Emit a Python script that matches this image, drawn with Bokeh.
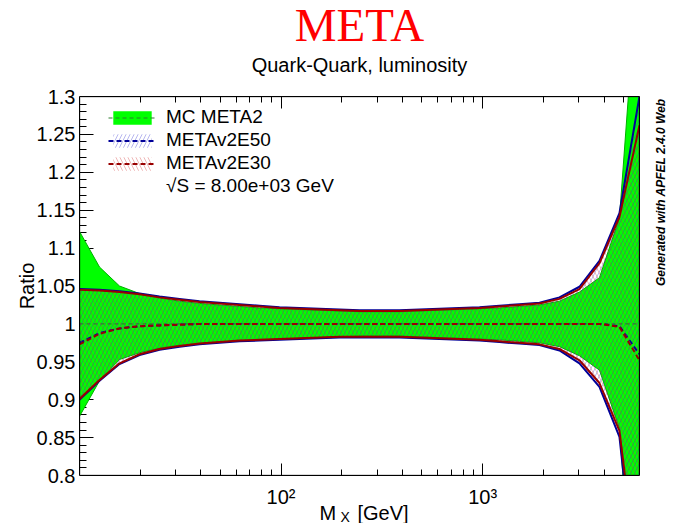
import math
from bokeh.plotting import figure
from bokeh.models import (FixedTicker, LogAxis, LinearAxis, Legend, Grid,
                          LegendItem, Range1d, Title, BoxAnnotation)
from bokeh.embed import file_html
from bokeh.resources import INLINE

# ---------------- data ----------------
mass = [10.0, 12.57, 15.79, 19.85, 24.94, 31.35, 39.39, 49.5, 62.2, 78.2,
        98.2, 123.4, 155.1, 194.9, 244.9, 307.8, 386.7, 486.0, 610.7, 767.4,
        964.5, 1212.0, 1523.0, 1914.0, 2405.0, 3022.0, 3797.0, 4772.0, 5998.0]

mc_central = [1.0, 1.0, 1.0, 1.0, 1.0, 1.0, 1.0, 1.0, 1.0, 1.0,
              1.0, 1.0, 1.0, 1.0, 1.0, 1.0, 1.0, 1.0, 1.0, 1.0,
              1.0, 1.0, 1.0, 1.0, 1.0, 1.0, 1.0, 1.0, 1.0]
mc_upper = [1.122, 1.075, 1.050, 1.040, 1.034, 1.030, 1.027, 1.025, 1.023, 1.021,
            1.020, 1.019, 1.018, 1.017, 1.016, 1.016, 1.016, 1.017, 1.018, 1.019,
            1.020, 1.021, 1.023, 1.025, 1.030, 1.042, 1.061, 1.140, 1.500]
mc_lower = [0.878, 0.925, 0.953, 0.962, 0.968, 0.972, 0.974, 0.976, 0.978, 0.979,
            0.980, 0.981, 0.982, 0.983, 0.984, 0.984, 0.984, 0.983, 0.982, 0.981,
            0.980, 0.979, 0.977, 0.975, 0.970, 0.958, 0.939, 0.862, 0.500]

e50_central = [0.975, 0.988, 0.994, 0.997, 0.998, 0.999, 1.0, 1.0, 1.0, 1.0,
               1.0, 1.0, 1.0, 1.0, 1.0, 1.0, 1.0, 1.0, 1.0, 1.0,
               1.0, 1.0, 1.0, 1.0, 1.0, 1.0, 1.0, 0.997, 0.960]
e50_upper = [1.046, 1.045, 1.043, 1.040, 1.036, 1.033, 1.030, 1.028, 1.026, 1.024,
             1.022, 1.021, 1.020, 1.019, 1.018, 1.018, 1.018, 1.019, 1.020, 1.021,
             1.022, 1.024, 1.026, 1.028, 1.035, 1.049, 1.083, 1.146, 1.300]
e50_lower = [0.900, 0.925, 0.947, 0.959, 0.966, 0.970, 0.973, 0.975, 0.977, 0.978,
             0.979, 0.980, 0.981, 0.982, 0.982, 0.982, 0.982, 0.981, 0.980, 0.979,
             0.978, 0.976, 0.974, 0.972, 0.965, 0.948, 0.917, 0.851, 0.610]

e30_central = [0.973, 0.987, 0.994, 0.997, 0.998, 0.999, 1.0, 1.0, 1.0, 1.0,
               1.0, 1.0, 1.0, 1.0, 1.0, 1.0, 1.0, 1.0, 1.0, 1.0,
               1.0, 1.0, 1.0, 1.0, 1.0, 1.0, 1.0, 0.996, 0.952]
e30_upper = [1.045, 1.044, 1.042, 1.039, 1.035, 1.032, 1.029, 1.027, 1.025, 1.023,
             1.021, 1.020, 1.019, 1.018, 1.017, 1.017, 1.017, 1.018, 1.019, 1.020,
             1.021, 1.023, 1.025, 1.027, 1.033, 1.046, 1.080, 1.141, 1.262]
e30_lower = [0.901, 0.926, 0.948, 0.960, 0.967, 0.971, 0.974, 0.976, 0.978, 0.979,
             0.980, 0.981, 0.982, 0.983, 0.983, 0.983, 0.983, 0.982, 0.981, 0.980,
             0.979, 0.977, 0.975, 0.973, 0.967, 0.952, 0.922, 0.859, 0.645]

series_names = ["MC META2", "METAv2E50", "METAv2E30"]
energy_label = "\u221aS = 8.00e+03 GeV"

x_tick_values = [100, 1000]
x_tick_labels = ["10\u00b2", "10\u00b3"]
x_minor_ticks = [20, 30, 40, 50, 60, 70, 80, 90,
                 200, 300, 400, 500, 600, 700, 800, 900,
                 2000, 3000, 4000, 5000, 6000]
y_tick_values = [0.8, 0.85, 0.9, 0.95, 1.0, 1.05, 1.1, 1.15, 1.2, 1.25, 1.3]
y_tick_labels = ["0.8", "0.85", "0.9", "0.95", "1", "1.05", "1.1", "1.15",
                 "1.2", "1.25", "1.3"]
y_minor_ticks = [round(0.8 + 0.01 * i, 2) for i in range(51)]

# ---------------- figure ----------------
FONT = "Liberation Sans"
X0, X1, Y0, Y1 = 10, 6000, 0.8, 1.3
FRAME_W, FRAME_H = 560, 379
p = figure(width=677, height=523, x_axis_type="log", title=None,
           x_range=Range1d(X0, X1), y_range=Range1d(Y0, Y1),
           output_backend="svg", toolbar_location=None,
           min_border_left=79, min_border_right=38,
           min_border_top=96, min_border_bottom=48)
p.grid.visible = False
p.outline_line_color = None
p.background_fill_color = None
p.border_fill_color = "white"

xt = FixedTicker(ticks=x_tick_values, minor_ticks=[])
yt = FixedTicker(ticks=y_tick_values, minor_ticks=[])

def no_ticks(ax):
    ax.major_tick_in = 0
    ax.major_tick_out = 0
    ax.minor_tick_in = 0
    ax.minor_tick_out = 0
    ax.axis_line_color = "black"

xa = p.xaxis[0]
xa.ticker = xt
no_ticks(xa)
xa.major_label_overrides = dict(zip(x_tick_values, x_tick_labels))
xa.major_label_standoff = 10
xa.major_label_text_font = FONT
xa.major_label_text_font_size = "20px"
xa.major_label_text_color = "black"

ya = p.yaxis[0]
ya.ticker = yt
no_ticks(ya)
ya.major_label_overrides = dict(zip(y_tick_values, y_tick_labels))
ya.major_label_standoff = 4
ya.major_label_text_font = FONT
ya.major_label_text_font_size = "20px"
ya.major_label_text_color = "black"
ya.axis_label = "Ratio"
ya.axis_label_text_font = FONT
ya.axis_label_text_font_size = "20px"
ya.axis_label_text_font_style = "normal"
ya.axis_label_text_color = "black"
ya.axis_label_standoff = -4

top = LogAxis(ticker=xt, major_label_text_font_size="1px",
              major_label_text_alpha=0, major_label_standoff=0)
no_ticks(top)
p.add_layout(top, "above")
right = LinearAxis(ticker=yt, major_label_text_font_size="1px",
                   major_label_text_alpha=0, major_label_standoff=0,
                   axis_label="Generated with APFEL 2.4.0 Web",
                   axis_label_text_font=FONT, axis_label_text_font_size="12px",
                   axis_label_text_font_style="bold italic",
                   axis_label_text_color="black", axis_label_standoff=21)
no_ticks(right)
if "axis_label_orientation" in right.properties():
    right.axis_label_orientation = math.pi / 2
p.add_layout(right, "right")

# ROOT-style inward ticks on all four sides: short grid lines
dec_px = FRAME_W / math.log10(X1 / X0)
y_per_px = (Y1 - Y0) / FRAME_H
HAS_CROSS = "cross_bounds" in Grid(dimension=0).properties()

def tick_grid(dim, ticks, cross):
    if not HAS_CROSS:
        return
    g = Grid(dimension=dim, ticker=FixedTicker(ticks=ticks), cross_bounds=cross,
             grid_line_color="black", grid_line_width=1)
    p.add_layout(g)

for ticks, length in ((x_tick_values, 12), (x_minor_ticks, 6)):
    tick_grid(0, ticks, (Y0, Y0 + length * y_per_px))
    tick_grid(0, ticks, (Y1 - length * y_per_px, Y1))
for ticks, length in ((y_tick_values, 14), (y_minor_ticks, 7)):
    tick_grid(1, ticks, (X0, X0 * 10 ** (length / dec_px)))
    tick_grid(1, ticks, (X1 / 10 ** (length / dec_px), X1))

# titles
p.add_layout(Title(text="Quark-Quark, luminosity", align="center",
                   text_font=FONT, text_font_size="20px",
                   text_font_style="normal", text_color="black",
                   standoff=41), "above")
p.add_layout(Title(text="META", align="center", text_font="Liberation Serif",
                   text_font_size="47px", text_font_style="normal",
                   text_color="#ff0000", standoff=-38), "above")

# x axis title: M with subscript X, then [GeV]
p.add_layout(Title(text="M", align="left", offset=240, text_font=FONT,
                   text_font_size="20px", text_font_style="normal",
                   text_color="black", standoff=-27), "below")
p.add_layout(Title(text="[GeV]", align="left", offset=278, text_font=FONT,
                   text_font_size="20px", text_font_style="normal",
                   text_color="black", standoff=-27), "below")
p.add_layout(Title(text="X", align="left", offset=261, text_font=FONT,
                   text_font_size="14px", text_font_style="normal",
                   text_color="black", standoff=-8), "below")

# ---------------- glyphs ----------------
mc_band = p.varea(x=mass, y1=mc_lower, y2=mc_upper, fill_color="#00ff00")
p.line(mass, mc_upper, line_color="#00b000", line_width=1)
p.line(mass, mc_lower, line_color="#00b000", line_width=1)
mc_line = p.line(mass, mc_central, line_color="#2e7d2e", line_width=1.2,
                 line_dash="4 3")

e50_band = p.varea(x=mass, y1=e50_lower, y2=e50_upper, fill_alpha=0,
                   hatch_pattern="right_diagonal_line", hatch_color="#3030d0",
                   hatch_alpha=0.5, hatch_weight=0.7, hatch_scale=8)
p.line(mass, e50_upper, line_color="#000099", line_width=2)
p.line(mass, e50_lower, line_color="#000099", line_width=2)
e50_line = p.line(mass, e50_central, line_color="#000099", line_width=2,
                  line_dash="5 3")

e30_band = p.varea(x=mass, y1=e30_lower, y2=e30_upper, fill_alpha=0,
                   hatch_pattern="left_diagonal_line", hatch_color="#d03030",
                   hatch_alpha=0.5, hatch_weight=0.7, hatch_scale=8)
p.line(mass, e30_upper, line_color="#990000", line_width=2)
p.line(mass, e30_lower, line_color="#990000", line_width=2)
e30_line = p.line(mass, e30_central, line_color="#990000", line_width=2,
                  line_dash="5 3")

dummy = p.line(mass, mc_central, line_alpha=0)

legend = Legend(items=[
    LegendItem(label=series_names[0], renderers=[mc_band, mc_line]),
    LegendItem(label=series_names[1], renderers=[e50_band, e50_line]),
    LegendItem(label=series_names[2], renderers=[e30_band, e30_line]),
    LegendItem(label=energy_label, renderers=[dummy]),
], location=(29, 278), padding=0, margin=0, spacing=1, glyph_width=48,
    glyph_height=17, label_height=17, label_standoff=10,
    label_text_font=FONT, label_text_font_size="19px", label_text_color="black",
    border_line_alpha=0, background_fill_alpha=0)
p.add_layout(legend)

# frame border on top of the bands
p.add_layout(BoxAnnotation(fill_alpha=0, line_color="black", line_width=2,
                           level="overlay"))

open("out.html", "w").write(file_html(p, INLINE))
